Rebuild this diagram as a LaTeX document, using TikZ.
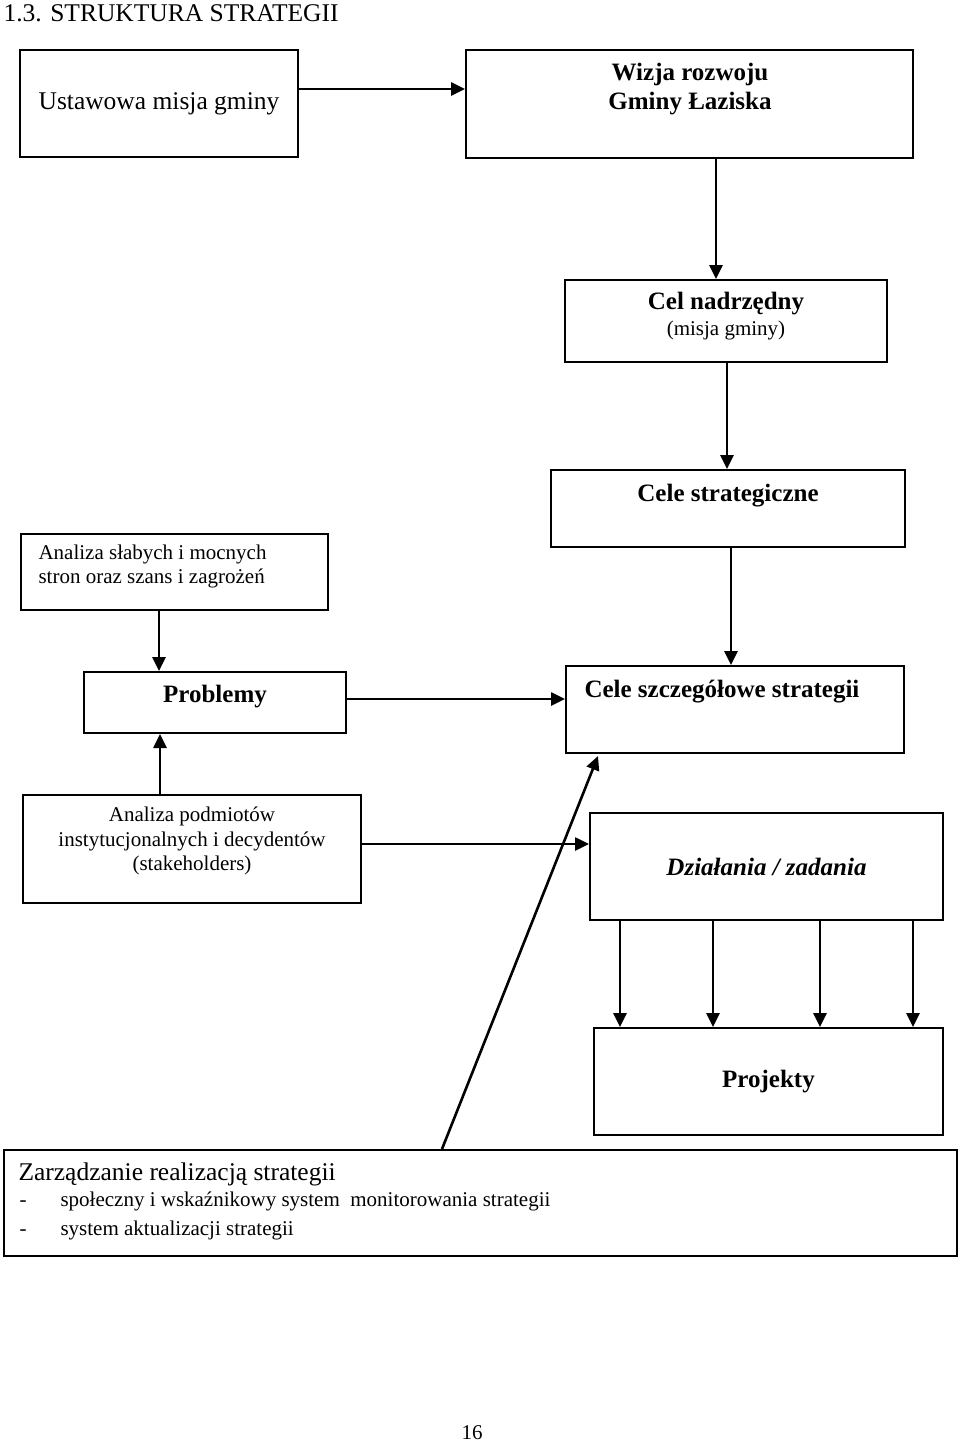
\documentclass[tikz,border=0pt]{standalone}
\usepackage{fontspec}
\setmainfont{Liberation Serif}
\usetikzlibrary{calc,arrows.meta}

\begin{document}
\begin{tikzpicture}[x=1pt, y=-1pt,
  box/.style={draw, line width=2pt, inner sep=0pt},
  txtbig/.style={font=\fontsize{25.5}{29}\selectfont, align=center},
  txtbold/.style={font=\fontsize{25}{29}\selectfont\bfseries, align=center},
  txtsmall/.style={font=\fontsize{21}{24.5}\selectfont, align=center},
  arr/.style={-{Triangle[length=14pt,width=13pt]}, line width=2.6pt}
]
  \useasboundingbox (0,0) rectangle (960,1444);
  % Heading and page number
  \node[txtbig, anchor=west] (head) at (0,13) {1.3. STRUKTURA STRATEGII};
  \node[txtsmall] (page) at (472,1433) {16};
  % Mission and vision
  \node[box, txtbig, minimum width=278pt, minimum height=107pt] (ust) at (159,103.5) {Ustawowa misja gminy};
  \node[box, minimum width=447pt, minimum height=108pt] (wiz) at (689.5,104) {};
  \node[txtbold] (wiztxt) at (690,89.5) {Wizja rozwoju\\Gminy Łaziska};
  % Goals column
  \node[box, minimum width=322pt, minimum height=82pt] (celn) at (726,321) {};
  \node[txtbold] (celntxt) at (726,304) {Cel nadrzędny};
  \node[txtsmall] (celnsub) at (726,330) {(misja gminy)};
  \node[box, minimum width=354pt, minimum height=77pt] (cstr) at (728,508.5) {};
  \node[txtbold] (cstrtxt) at (728,496) {Cele strategiczne};
  \node[box, minimum width=338pt, minimum height=87pt] (cszcz) at (735,709.5) {};
  \node[txtbold, anchor=west] (cszcztxt) at (581,692) {Cele szczegółowe strategii};
  % Analysis column
  \node[box, minimum width=307pt, minimum height=76pt] (swot) at (174.5,572) {};
  \node[txtsmall, align=left, anchor=west] (swottxt) at (35,566.5) {Analiza słabych i mocnych\\stron oraz szans i zagrożeń};
  \node[box, minimum width=262pt, minimum height=61pt] (prob) at (215,702.5) {};
  \node[txtbold] (probtxt) at (215,697) {Problemy};
  \node[box, minimum width=338pt, minimum height=108pt] (podm) at (192,849) {};
  \node[txtsmall] (podmtxt) at (192,841) {Analiza podmiotów\\instytucjonalnych i decydentów\\(stakeholders)};
  % Actions and projects
  \node[box, txtbold, font=\fontsize{25}{29}\selectfont\bfseries\itshape, minimum width=353pt, minimum height=107pt] (dzial) at (766.5,866.5) {Działania / zadania};
  \node[box, txtbold, minimum width=349pt, minimum height=107pt] (proj) at (768.5,1081.5) {Projekty};
  % Management box
  \node[box, minimum width=953pt, minimum height=106pt] (zarz) at (480.5,1203) {};
  \node[txtbig, anchor=west] (zarztxt) at (15,1174) {Zarządzanie realizacją strategii};
  \node[txtsmall, anchor=west] (zarz1) at (16,1201) {\makebox[41pt][l]{-}społeczny i wskaźnikowy system~ monitorowania strategii};
  \node[txtsmall, anchor=west] (zarz2) at (16,1230) {\makebox[41pt][l]{-}system aktualizacji strategii};
  % Connectors
  \draw[arr] ([yshift=14.5pt]ust.east) -- ([yshift=14.5pt]ust.east -| wiz.west);
  \draw[arr] (716,0 |- wiz.south) -- (716,0 |- celn.north);
  \draw[arr] (727,0 |- celn.south) -- (727,0 |- cstr.north);
  \draw[arr] (731,0 |- cstr.south) -- (731,0 |- cszcz.north);
  \draw[arr] (159,0 |- swot.south) -- (159,0 |- prob.north);
  \draw[arr] (160,0 |- podm.north) -- (160,0 |- prob.south);
  \draw[arr] ([yshift=3.5pt]prob.east) -- ([yshift=3.5pt]prob.east -| cszcz.west);
  \draw[arr] ([yshift=5pt]podm.east) -- ([yshift=5pt]podm.east -| dzial.west);
  \draw[arr] (442,0 |- zarz.north) -- ($(598,0 |- cszcz.south)+(0,2)$);
  \foreach \x in {620, 713, 820, 913} {
    \draw[arr] (\x,0 |- dzial.south) -- (\x,0 |- proj.north);
  }
\end{tikzpicture}
\end{document}
